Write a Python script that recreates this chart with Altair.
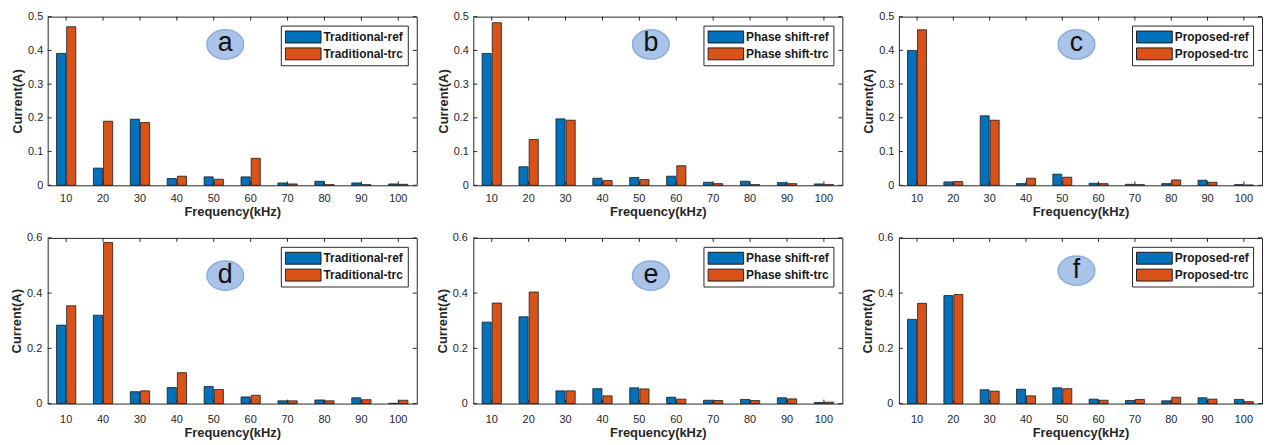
import altair as alt
import pandas as pd

# ---------------- data ----------------
LABELS_STD = ["10", "20", "30", "40", "50", "60", "70", "80", "90", "100"]
LABELS_D = ["10", "40", "30", "40", "50", "60", "70", "80", "90", "100"]

a_ref = [0.391, 0.051, 0.196, 0.020, 0.025, 0.025, 0.007, 0.012, 0.007, 0.004]
a_trc = [0.470, 0.190, 0.186, 0.027, 0.018, 0.080, 0.004, 0.002, 0.002, 0.003]
b_ref = [0.391, 0.055, 0.197, 0.021, 0.023, 0.027, 0.009, 0.012, 0.008, 0.004]
b_trc = [0.482, 0.136, 0.193, 0.014, 0.017, 0.058, 0.005, 0.002, 0.005, 0.002]
c_ref = [0.400, 0.010, 0.206, 0.005, 0.033, 0.006, 0.003, 0.005, 0.015, 0.002]
c_trc = [0.461, 0.011, 0.193, 0.021, 0.024, 0.005, 0.002, 0.016, 0.009, 0.001]
d_ref = [0.284, 0.320, 0.043, 0.058, 0.062, 0.024, 0.010, 0.013, 0.021, 0.001]
d_trc = [0.354, 0.583, 0.046, 0.112, 0.051, 0.030, 0.010, 0.010, 0.014, 0.012]
e_ref = [0.295, 0.314, 0.046, 0.054, 0.057, 0.023, 0.012, 0.015, 0.021, 0.004]
e_trc = [0.364, 0.404, 0.046, 0.028, 0.053, 0.016, 0.011, 0.011, 0.017, 0.005]
f_ref = [0.305, 0.391, 0.050, 0.052, 0.057, 0.016, 0.011, 0.010, 0.021, 0.015]
f_trc = [0.363, 0.395, 0.045, 0.028, 0.054, 0.012, 0.015, 0.023, 0.016, 0.007]

TRAD = ["Traditional-ref", "Traditional-trc"]
PHASE = ["Phase shift-ref", "Phase shift-trc"]
PROP = ["Proposed-ref", "Proposed-trc"]

YT_TOP = [0, 0.1, 0.2, 0.3, 0.4, 0.5]
YT_BOT = [0, 0.2, 0.4, 0.6]

# ---------------- style ----------------
BLUE = "#0072BD"
ORANGE = "#D95319"
AX = "#262626"
FONT = "Liberation Sans"
RECT_PATH = "M-1,-0.333L1,-0.333L1,0.333L-1,0.333Z"
ELL_PATH = "M-1,0A1,0.8,0,1,1,1,0A1,0.8,0,1,1,-1,0Z"


def panel(letter, names, ref, trc, labels, ymax, yticks, width, height,
          letter_y, xlab_pad, ylab_pad):
    n = len(labels)
    df = pd.DataFrame({
        "idx": list(range(n)) * 2,
        "series": [names[0]] * n + [names[1]] * n,
        "value": ref + trc,
    })
    lab_js = "[" + ",".join("'" + s + "'" for s in labels) + "]"
    xenc = alt.X(
        "idx:O",
        scale=alt.Scale(paddingInner=0.45, paddingOuter=0.225),
        axis=alt.Axis(
            title="Frequency(kHz)",
            labelExpr=lab_js + "[datum.value]",
            labelAngle=0,
            labelPadding=xlab_pad,
            titlePadding=2,
        ),
    )
    yenc = alt.Y(
        "value:Q",
        scale=alt.Scale(domain=[0, ymax], nice=False, zero=True),
        axis=alt.Axis(
            title="Current(A)",
            values=yticks,
            format=".1~f",
            labelPadding=ylab_pad,
            titlePadding=3,
        ),
    )
    bars = alt.Chart(df).mark_bar(stroke="#1a1a1a", strokeWidth=0.8).encode(
        x=xenc,
        y=yenc,
        xOffset=alt.XOffset(
            "series:N", sort=names,
            scale=alt.Scale(paddingInner=0.1, paddingOuter=0.05),
        ),
        color=alt.Color(
            "series:N",
            sort=names,
            scale=alt.Scale(domain=names, range=[BLUE, ORANGE]),
            legend=alt.Legend(
                title=None,
                orient="top-right",
                offset=9,
                symbolType=RECT_PATH,
                symbolSize=36 * 36,
                symbolStrokeColor="#1a1a1a",
                symbolStrokeWidth=1,
                labelFont=FONT,
                labelFontSize=12,
                labelFontWeight="bold",
                labelColor="#1a1a1a",
                labelOffset=2,
                labelBaseline="middle",
                clipHeight=15,
                rowPadding=2,
                padding=4,
                strokeColor=AX,
                fillColor="white",
                cornerRadius=0,
            ),
        ),
    )
    xt = pd.DataFrame({"idx": list(range(n))})
    yt = pd.DataFrame({"value": yticks})
    xtb = alt.Chart(xt).mark_rule(color=AX, strokeWidth=1).encode(
        x=xenc, y=alt.value(height), y2=alt.value(height - 4))
    xtt = alt.Chart(xt).mark_rule(color=AX, strokeWidth=1).encode(
        x=xenc, y=alt.value(0), y2=alt.value(4))
    ytl = alt.Chart(yt).mark_rule(color=AX, strokeWidth=1).encode(
        y=yenc, x=alt.value(0), x2=alt.value(4))
    ytr = alt.Chart(yt).mark_rule(color=AX, strokeWidth=1).encode(
        y=yenc, x=alt.value(width - 4), x2=alt.value(width))
    lab = pd.DataFrame({"t": [letter]})
    ell = alt.Chart(lab).mark_point(
        shape=ELL_PATH, size=37 * 37, filled=True, fill="#a9c3e9",
        stroke="#8eaddb", strokeWidth=1.5, opacity=1,
    ).encode(x=alt.value(179), y=alt.value(letter_y))
    txt = alt.Chart(lab).mark_text(
        font=FONT, fontSize=27, color="#111111", align="center",
        baseline="middle", dy=-1,
    ).encode(x=alt.value(179), y=alt.value(letter_y), text="t:N")
    return alt.layer(bars, xtb, xtt, ytl, ytr, ell, txt).properties(
        width=width, height=height)


W1, W2, W3 = 372, 372, 366
H1, H2 = 170, 167

pa = panel("a", TRAD, a_ref, a_trc, LABELS_STD, 0.5, YT_TOP, W1, H1, 28, 7, 5)
pb = panel("b", PHASE, b_ref, b_trc, LABELS_STD, 0.5, YT_TOP, W2, H1, 28, 7, 5)
pc = panel("c", PROP, c_ref, c_trc, LABELS_STD, 0.5, YT_TOP, W3, H1, 28, 7, 5)
pd_ = panel("d", TRAD, d_ref, d_trc, LABELS_D, 0.6, YT_BOT, W1, H2, 38, 10, 6)
pe = panel("e", PHASE, e_ref, e_trc, LABELS_STD, 0.6, YT_BOT, W2, H2, 38, 10, 6)
pf = panel("f", PROP, f_ref, f_trc, LABELS_STD, 0.6, YT_BOT, W3, H2, 33, 10, 6)


def row(*charts):
    return alt.hconcat(*charts, spacing=57, bounds="flush").resolve_scale(
        color="independent", xOffset="independent", x="independent",
        y="independent").resolve_legend(color="independent")


chart = alt.vconcat(row(pa, pb, pc), row(pd_, pe, pf), spacing=12
                    ).resolve_scale(
    color="independent", xOffset="independent", x="independent",
    y="independent").resolve_legend(color="independent").properties(
    padding={"left": 2, "top": 0, "right": 0, "bottom": 0},
).configure_view(stroke=AX, strokeWidth=1).configure_axis(
    grid=False, domain=False, ticks=False,
    labelFont=FONT, labelFontSize=11, labelColor=AX,
    titleFont=FONT, titleFontSize=13, titleFontWeight="bold", titleColor=AX,
)

chart.save("out.html", embed_options={"renderer": "svg", "actions": False})
